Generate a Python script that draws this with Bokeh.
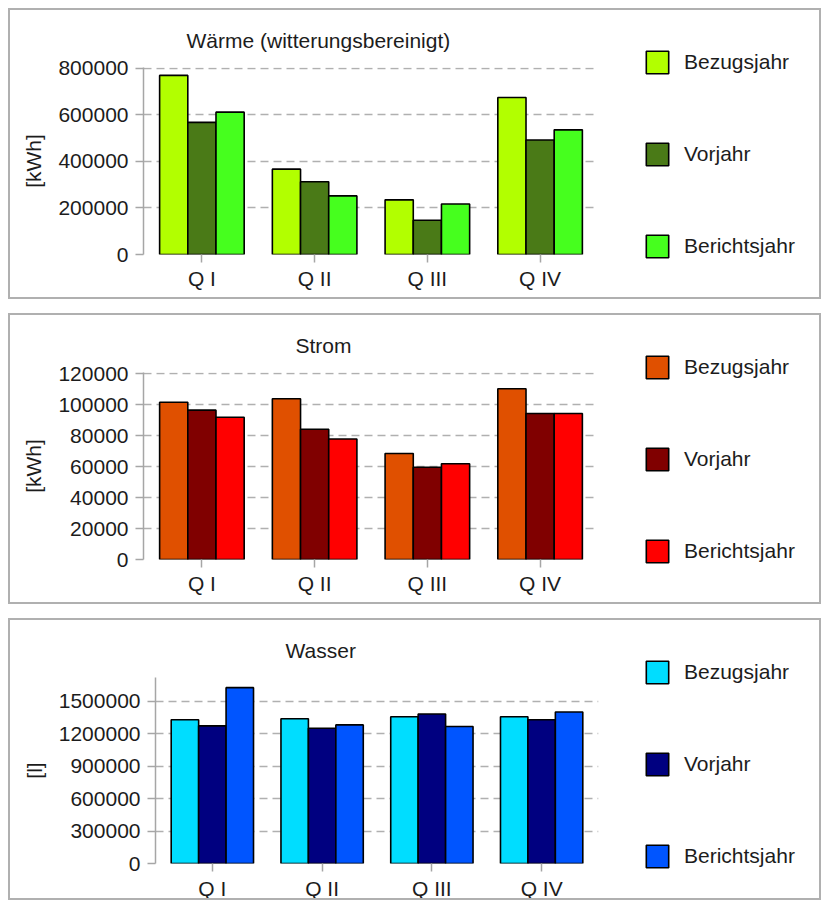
from bokeh.plotting import figure
from bokeh.models import (FactorRange, Range1d, Legend, LegendItem,
                          SingleIntervalTicker, BasicTickFormatter, ColumnDataSource)
from bokeh.transform import dodge
from bokeh.embed import file_html
from bokeh.resources import INLINE

quarters = ["Q I", "Q II", "Q III", "Q IV"]
series_names = ["Bezugsjahr", "Vorjahr", "Berichtsjahr"]

waerme_bezugsjahr = [770000, 367000, 235000, 675000]
waerme_vorjahr = [568000, 313000, 147000, 492000]
waerme_berichtsjahr = [612000, 252000, 217000, 536000]

strom_bezugsjahr = [101500, 103800, 68400, 110200]
strom_vorjahr = [96400, 84100, 59500, 94200]
strom_berichtsjahr = [91800, 77800, 61800, 94200]

wasser_bezugsjahr = [1328000, 1338000, 1356000, 1356000]
wasser_vorjahr = [1272000, 1250000, 1381000, 1328000]
wasser_berichtsjahr = [1625000, 1281000, 1266000, 1400000]

waerme_colors = ["#B2FF00", "#4A7A17", "#46FF1E"]
strom_colors = ["#E05000", "#800000", "#FF0000"]
wasser_colors = ["#00DDFF", "#000080", "#0055FF"]

FONT = "Liberation Sans"
FS = "21px"
TEXT = "#1c1c1c"
AXIS = "#a6a6a6"
BORDER = "2px solid #b0b0b0"


def make_chart(title_text, unit, series, colors, y_end, step, height,
               min_left, min_bottom, title_offset, xl_standoff, top_margin):
    p = figure(width=813, height=height,
               x_range=FactorRange(factors=quarters, range_padding=0.009),
               y_range=Range1d(0, y_end),
               output_backend="svg", toolbar_location=None,
               min_border_left=min_left, min_border_right=225,
               min_border_top=57, min_border_bottom=min_bottom,
               title=title_text,
               styles={"border": BORDER, "margin-left": "8px", "margin-top": top_margin})
    p.outline_line_color = None
    p.background_fill_color = "white"
    p.border_fill_color = "white"

    p.title.align = "left"
    p.title.offset = title_offset
    p.title.standoff = 32
    p.title.text_font = FONT
    p.title.text_font_size = FS
    p.title.text_font_style = "normal"
    p.title.text_color = TEXT

    src = ColumnDataSource(dict(q=quarters, s0=series[0], s1=series[1], s2=series[2]))
    offsets = [-0.25, 0.0, 0.25]
    for i in range(3):
        p.vbar(x=dodge("q", offsets[i], range=p.x_range), top="s%d" % i,
               width=0.25, source=src, fill_color=colors[i],
               line_color="black", line_width=1.6)

    ticker = SingleIntervalTicker(interval=step, num_minor_ticks=0)
    ya = p.yaxis[0]
    ya.ticker = ticker
    ya.formatter = BasicTickFormatter(use_scientific=False)
    ya.axis_label = unit
    ya.axis_label_text_font = FONT
    ya.axis_label_text_font_size = FS
    ya.axis_label_text_font_style = "normal"
    ya.axis_label_text_color = TEXT
    ya.axis_label_standoff = 10
    ya.major_label_text_font = FONT
    ya.major_label_text_font_size = FS
    ya.major_label_text_color = TEXT
    ya.major_label_standoff = 7
    ya.axis_line_color = AXIS
    ya.axis_line_width = 1.5
    ya.major_tick_line_color = AXIS
    ya.major_tick_line_width = 1.5
    ya.major_tick_out = 8
    ya.major_tick_in = 0
    ya.minor_tick_line_color = None

    xa = p.xaxis[0]
    xa.axis_line_color = None
    xa.major_tick_line_color = AXIS
    xa.major_tick_line_width = 1.5
    xa.major_tick_out = 8
    xa.major_tick_in = 0
    xa.minor_tick_line_color = None
    xa.major_label_text_font = FONT
    xa.major_label_text_font_size = FS
    xa.major_label_text_color = TEXT
    xa.major_label_standoff = xl_standoff

    p.xgrid.grid_line_color = None
    p.ygrid.grid_line_color = "#b0b0b0"
    p.ygrid.grid_line_dash = "8 5"
    p.ygrid.grid_line_width = 1.5
    return p


def make_legend(colors, height, top):
    lf = figure(width=214, height=height, x_range=Range1d(0, 1), y_range=Range1d(0, 1),
                output_backend="svg", toolbar_location=None,
                x_axis_type=None, y_axis_type=None,
                min_border_left=0, min_border_right=0,
                min_border_top=0, min_border_bottom=0,
                styles={"position": "absolute", "left": "605px", "top": top})
    lf.outline_line_color = None
    lf.background_fill_alpha = 0
    lf.border_fill_alpha = 0
    lf.xgrid.grid_line_color = None
    lf.ygrid.grid_line_color = None
    keys = [lf.vbar(x=[0], top=[0], width=0, fill_color=colors[i],
                    line_color="black", line_width=1.6) for i in range(3)]
    legend = Legend(items=[LegendItem(label=series_names[i], renderers=[keys[i]])
                           for i in range(3)],
                    location="top_left", orientation="vertical",
                    glyph_width=28, glyph_height=28, label_height=28, spacing=64,
                    padding=0, margin=38, label_standoff=13,
                    label_text_font=FONT, label_text_font_size=FS,
                    label_text_color=TEXT, border_line_color=None,
                    background_fill_alpha=0)
    lf.add_layout(legend, "center")
    return lf


p1 = make_chart("Wärme (witterungsbereinigt)", "[kWh]",
                [waerme_bezugsjahr, waerme_vorjahr, waerme_berichtsjahr],
                waerme_colors, 804000, 200000, 291, 133, 47, 43, 4, "8px")
p2 = make_chart("Strom", "[kWh]",
                [strom_bezugsjahr, strom_vorjahr, strom_berichtsjahr],
                strom_colors, 120700, 20000, 291, 133, 47, 152, 4, "14px")
p3 = make_chart("Wasser", "[l]",
                [wasser_bezugsjahr, wasser_vorjahr, wasser_berichtsjahr],
                wasser_colors, 1719000, 300000, 282, 145, 38, 130, 5, "14px")

l1 = make_legend(waerme_colors, 287, "10px")
l2 = make_legend(strom_colors, 287, "315px")
l3 = make_legend(wasser_colors, 278, "620px")

open("out.html", "w").write(file_html([p1, p2, p3, l1, l2, l3], INLINE))
